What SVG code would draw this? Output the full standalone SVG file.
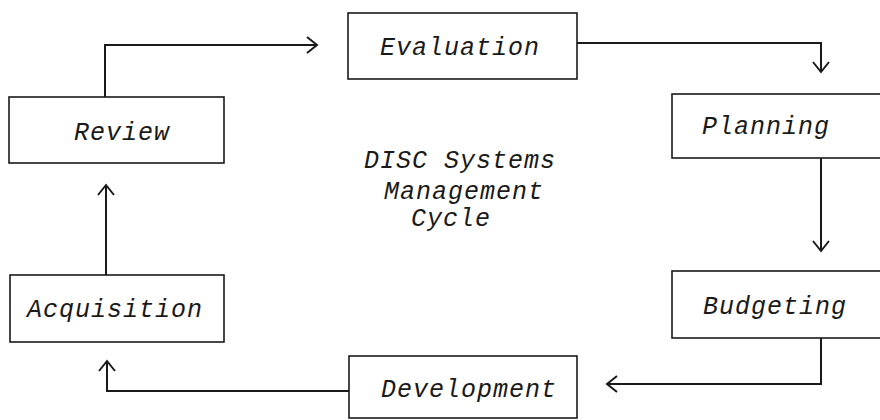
<svg xmlns="http://www.w3.org/2000/svg" width="880" height="420" viewBox="0 0 880 420">
<style>
.box{fill:#fff;stroke:#1a1a1a;stroke-width:1.6}
.lbl{font-family:"Liberation Mono","Courier New",monospace;font-style:italic;font-size:25px;letter-spacing:1px;fill:#1a1a1a}
.conn{fill:none;stroke:#1a1a1a;stroke-width:2}
</style>
<defs>
<marker id="arr" markerUnits="userSpaceOnUse" markerWidth="24" markerHeight="24" viewBox="-12 -12 24 24" refX="0" refY="0" orient="auto">
<path d="M-10,-8 L0,0 L-10,8" fill="none" stroke="#1a1a1a" stroke-width="2"/>
</marker>
</defs>
<rect width="880" height="420" fill="#fff"/>
<g id="connectors">
<path class="conn" d="M105,97 V45 H317" marker-end="url(#arr)"/>
<path class="conn" d="M577,43 H821 V72" marker-end="url(#arr)"/>
<path class="conn" d="M821,158 V251" marker-end="url(#arr)"/>
<path class="conn" d="M821,338 V384 H607" marker-end="url(#arr)"/>
<path class="conn" d="M349,391 H107 V361" marker-end="url(#arr)"/>
<path class="conn" d="M106,275 V185" marker-end="url(#arr)"/>
</g>
<g id="evaluation"><rect class="box" x="348" y="13" width="229" height="66"/><text class="lbl" x="380" y="55">Evaluation</text></g>
<g id="review"><rect class="box" x="9" y="97" width="215" height="66"/><text class="lbl" x="74" y="140">Review</text></g>
<g id="planning"><rect class="box" x="672" y="94" width="220" height="64"/><text class="lbl" x="702" y="134">Planning</text></g>
<g id="budgeting"><rect class="box" x="672" y="271" width="220" height="67"/><text class="lbl" x="703" y="314">Budgeting</text></g>
<g id="development"><rect class="box" x="349" y="356" width="228" height="62"/><text class="lbl" x="381" y="397">Development</text></g>
<g id="acquisition"><rect class="box" x="10" y="275" width="214" height="67"/><text class="lbl" x="27" y="317">Acquisition</text></g>
<g id="title">
<text class="lbl" x="364" y="168">DISC Systems</text>
<text class="lbl" x="384" y="199">Management</text>
<text class="lbl" x="411" y="226">Cycle</text>
</g>
</svg>
